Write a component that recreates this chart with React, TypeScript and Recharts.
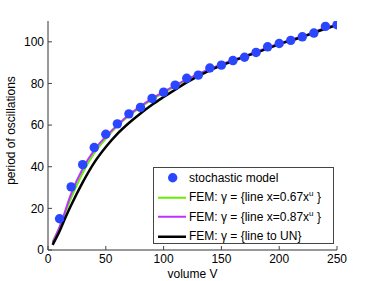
import React from "react";
import { ComposedChart, Line, Scatter, XAxis, YAxis } from "recharts";

const stochX = [10, 20, 30, 40, 50, 60, 70, 80, 90, 100, 110, 120, 130, 140, 150, 160, 170, 180, 190, 200, 210, 220, 230, 240, 250];
const stochY = [15, 30.3, 41, 49.2, 55.6, 60.6, 65.4, 68.5, 72.8, 75.8, 79.2, 82.5, 84, 87.4, 88.8, 91, 92.6, 94.9, 97.6, 99.2, 100.7, 102.4, 104.2, 107.4, 108.2];

const greenX = [4, 10, 20, 30, 40, 50, 60, 70, 80, 90, 100, 120, 140, 160, 180, 200, 220, 240, 250];
const greenY = [4, 11, 25, 37, 46.5, 53.5, 59.5, 64.5, 68.5, 72.3, 75.5, 81.5, 86.5, 91, 95, 99, 102.5, 106.5, 108];

const magentaX = [4, 10, 20, 30, 40, 50, 60, 70, 80, 90, 100, 120, 140, 160, 180, 200, 220, 240, 250];
const magentaY = [3.5, 11, 27, 39, 48, 54.5, 60, 65, 69, 72.8, 76, 82, 87, 91.2, 95.2, 99.2, 102.7, 106.7, 108.2];

const blackX = [4, 10, 15, 20, 30, 40, 50, 60, 70, 80, 90, 100, 110, 120, 140, 160, 180, 200, 220, 240, 250];
const blackY = [2.5, 9, 15.5, 21.5, 32.5, 42, 49.5, 55.8, 61, 65.6, 69.8, 73.5, 77, 80.5, 86.3, 90.8, 94.8, 98.8, 102.3, 106.3, 108];

const xTicks = [0, 50, 100, 150, 200, 250];
const yTicks = [0, 20, 40, 60, 80, 100];

const zip = (xs: number[], ys: number[]) => xs.map((x, i) => ({ x, y: ys[i] }));
const stoch = zip(stochX, stochY);
const green = zip(greenX, greenY);
const magenta = zip(magentaX, magentaY);
const black = zip(blackX, blackY);

const FONT = "'Liberation Sans', Arial, Helvetica, sans-serif";
const TICKC = "#444";

const BottomTick = (p: any) => (
  <g>
    <line x1={p.x} y1={p.y} x2={p.x} y2={p.y - 4} stroke={TICKC} strokeWidth={1} />
    <text x={p.x} y={p.y + 4} dy="0.71em" textAnchor="middle" fontSize={12} fontFamily={FONT} fill="#000">
      {p.payload.value}
    </text>
  </g>
);
const TopTick = (p: any) => (
  <line x1={p.x} y1={p.y} x2={p.x} y2={p.y + 4} stroke={TICKC} strokeWidth={1} />
);
const LeftTick = (p: any) => (
  <g>
    <line x1={p.x} y1={p.y} x2={p.x + 4} y2={p.y} stroke={TICKC} strokeWidth={1} />
    <text x={p.x - 4} y={p.y} dy="0.36em" textAnchor="end" fontSize={12} fontFamily={FONT} fill="#000">
      {p.payload.value}
    </text>
  </g>
);
const RightTick = (p: any) => (
  <line x1={p.x} y1={p.y} x2={p.x - 4} y2={p.y} stroke={TICKC} strokeWidth={1} />
);

const YLabel = (p: any) => {
  const vb = p.viewBox || {};
  const cx = (vb.x || 0) + 11;
  const cy = (vb.y || 0) + (vb.height || 0) / 2 - 5;
  return (
    <text
      x={cx}
      y={cy}
      transform={`rotate(-90 ${cx} ${cy})`}
      textAnchor="middle"
      dy="0.36em"
      fontSize={12}
      fontFamily={FONT}
      fill="#000"
    >
      period of oscillations
    </text>
  );
};

const Dot = (p: any) => <circle cx={p.cx} cy={p.cy} r={4.7} fill="#2a46ff" />;

const LegendRow = ({ kind, color, children }: any) => (
  <div style={{ height: 19.5, display: "flex", alignItems: "center", position: "relative" }}>
    <svg width={34} height={19.5} style={{ flex: "none" }}>
      {kind === "dot" ? (
        <circle cx={18.7} cy={9.75} r={4.7} fill="#2a46ff" />
      ) : (
        <line x1={4} x2={32} y1={9.75} y2={9.75} stroke={color} strokeWidth={color === "#000" ? 2.5 : 2} />
      )}
    </svg>
    <span style={{ marginLeft: 1, whiteSpace: "nowrap" }}>{children}</span>
  </div>
);

const Sup = () => <sup style={{ fontSize: 8, verticalAlign: "5px", lineHeight: 0 }}>u</sup>;

export default function App() {
  return (
    <div style={{ position: "absolute", left: 0, top: 0, width: 374, height: 281, background: "#fff" }}>
      <ComposedChart width={374} height={281} margin={{ top: 21, right: 37, bottom: 0, left: 0 }}>
        <XAxis
          xAxisId="b"
          dataKey="x"
          type="number"
          domain={[0, 250]}
          ticks={xTicks}
          tickSize={0}
          tickMargin={0}
          height={31}
          axisLine={{ stroke: "#333" }}
          tickLine={false}
          tick={<BottomTick />}
          label={{ value: "volume V", position: "insideBottom", offset: 3, fontSize: 12, fontFamily: FONT, fill: "#000" }}
          allowDataOverflow
        />
        <XAxis
          xAxisId="t"
          orientation="top"
          dataKey="x"
          type="number"
          domain={[0, 250]}
          ticks={xTicks}
          tickSize={0}
          tickMargin={0}
          height={0}
          axisLine={{ stroke: "#333" }}
          tickLine={false}
          tick={<TopTick />}
        />
        <YAxis
          yAxisId="l"
          dataKey="y"
          type="number"
          domain={[0, 110]}
          ticks={yTicks}
          tickSize={0}
          tickMargin={0}
          width={48}
          axisLine={{ stroke: "#333" }}
          tickLine={false}
          tick={<LeftTick />}
          label={<YLabel />}
          allowDataOverflow
        />
        <YAxis
          yAxisId="r"
          orientation="right"
          type="number"
          domain={[0, 110]}
          ticks={yTicks}
          tickSize={0}
          tickMargin={0}
          width={0}
          axisLine={{ stroke: "#333" }}
          tickLine={false}
          tick={<RightTick />}
        />
        <Line xAxisId="b" yAxisId="l" data={green} dataKey="y" type="monotone" stroke="#66ee00" strokeWidth={2} dot={false} isAnimationActive={false} />
        <Line xAxisId="b" yAxisId="l" data={magenta} dataKey="y" type="monotone" stroke="#bb33ff" strokeWidth={2} dot={false} isAnimationActive={false} />
        <Line xAxisId="b" yAxisId="l" data={black} dataKey="y" type="monotone" stroke="#000" strokeWidth={2.5} dot={false} isAnimationActive={false} />
        <Scatter xAxisId="b" yAxisId="l" data={stoch} dataKey="y" shape={<Dot />} isAnimationActive={false} />
      </ComposedChart>
      <div
        style={{
          position: "absolute",
          left: 153,
          top: 167,
          width: 181,
          height: 77,
          border: "1px solid #444",
          background: "#fff",
          fontFamily: FONT,
          fontSize: 12,
          color: "#000",
          boxSizing: "border-box",
          paddingTop: 0,
        }}
      >
        <LegendRow kind="dot">stochastic model</LegendRow>
        <LegendRow color="#66ee00">FEM: γ = {"{"}line x=0.67x<Sup /> {"}"}</LegendRow>
        <LegendRow color="#bb33ff">FEM: γ = {"{"}line x=0.87x<Sup /> {"}"}</LegendRow>
        <LegendRow color="#000">FEM: γ = {"{"}line to UN{"}"}</LegendRow>
      </div>
    </div>
  );
}
